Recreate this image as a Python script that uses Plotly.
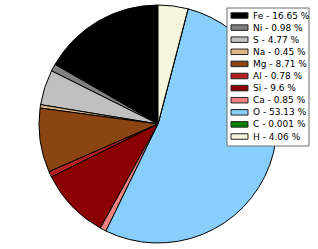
import plotly.graph_objects as go

elements = ["Fe", "Ni", "S", "Na", "Mg", "Al", "Si", "Ca", "O", "C", "H"]
percents = [16.65, 0.98, 4.77, 0.45, 8.71, 0.78, 9.6, 0.85, 53.13, 0.001, 4.06]
colors = ["#000000", "#808080", "#c0c0c0", "#deb887", "#8b4513", "#b22222",
          "#8b0000", "#f08080", "#87cefa", "#008000", "#f5f5dc"]

labels = [f"{e} - {p} %" for e, p in zip(elements, percents)]

W, H = 318, 249
cx, cy, r = 158, 124, 119

# first slice starts at 12 o'clock and runs counterclockwise
start_rot = -360.0 * percents[0] / sum(percents)

fig = go.Figure(go.Pie(
    labels=labels,
    values=percents,
    sort=False,
    direction="counterclockwise",
    rotation=start_rot,
    textinfo="none",
    hoverinfo="label",
    showlegend=False,
    marker=dict(colors=colors, line=dict(color="#000000", width=1)),
    domain=dict(x=[(cx - r) / W, (cx + r) / W],
                y=[(H - cy - r) / H, (H - cy + r) / H]),
))

# legend box drawn in paper space (matplotlib-like compact legend)
def px(x):
    return x / W

def py(y):
    return 1 - y / H

box_l, box_r, box_t, box_b = 227, 309, 8, 146
row0, row_h = 15.5, 12.1
sw_l, sw_r, sw_h = 231, 248, 5.5
text_x = 251

shapes = [dict(type="rect", xref="paper", yref="paper",
               x0=px(box_l), x1=px(box_r), y0=py(box_b), y1=py(box_t),
               line=dict(color="#6e6e6e", width=1), fillcolor="white", layer="above")]
annotations = []
for i, (lab, col) in enumerate(zip(labels, colors)):
    yc = row0 + i * row_h
    shapes.append(dict(type="rect", xref="paper", yref="paper",
                       x0=px(sw_l), x1=px(sw_r),
                       y0=py(yc + sw_h / 2), y1=py(yc - sw_h / 2),
                       line=dict(color="#222222", width=1), fillcolor=col, layer="above"))
    annotations.append(dict(xref="paper", yref="paper", x=px(text_x), y=py(yc),
                            xanchor="left", yanchor="middle", text=lab,
                            showarrow=False, font=dict(size=9, color="black")))

fig.update_layout(
    width=W, height=H,
    margin=dict(l=0, r=0, t=0, b=0, pad=0, autoexpand=False),
    paper_bgcolor="white",
    font=dict(family="DejaVu Sans", size=9, color="black"),
    showlegend=False,
    shapes=shapes,
    annotations=annotations,
)

fig.write_html(
    "out.html",
    config={"displayModeBar": False},
    post_script="document.body.style.margin='0';document.body.style.overflow='hidden';",
)
